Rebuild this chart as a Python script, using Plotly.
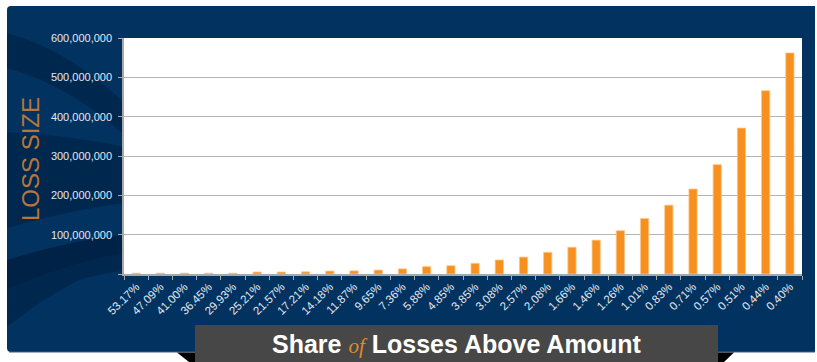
import plotly.graph_objects as go

# ---------------- data ----------------
share_labels = ["53.17%", "47.09%", "41.00%", "36.45%", "29.93%", "25.21%", "21.57%",
                "17.21%", "14.18%", "11.87%", "9.65%", "7.36%", "5.88%", "4.85%",
                "3.85%", "3.08%", "2.57%", "2.08%", "1.66%", "1.46%", "1.26%",
                "1.01%", "0.83%", "0.71%", "0.57%", "0.51%", "0.44%", "0.40%"]
loss_size = [2.0e6, 2.0e6, 2.0e6, 2.0e6, 2.0e6, 5.0e6, 5.0e6,
             5.5e6, 7.5e6, 8.0e6, 10.0e6, 13.0e6, 18.6e6, 21.0e6,
             27.0e6, 35.6e6, 43.0e6, 55.0e6, 68.0e6, 86.0e6, 110.0e6,
             141.0e6, 175.0e6, 216.0e6, 278.0e6, 371.0e6, 466.0e6, 562.0e6]
y_tickvals = [0, 100e6, 200e6, 300e6, 400e6, 500e6, 600e6]
y_ticktext = ["", "100,000,000", "200,000,000", "300,000,000",
              "400,000,000", "500,000,000", "600,000,000"]

# ---------------- layout geometry ----------------
W, H = 817, 362
L, R, T, B = 124, 15, 38, 88
PW, PH = W - L - R, H - T - B

def px(x):
    return (x - L) / PW

def py(y):
    return (H - B - y) / PH

def path(cmds):
    out = []
    for c in cmds:
        if c[0] in ("M", "L"):
            out.append(f"{c[0]} {px(c[1]):.5f},{py(c[2]):.5f}")
        elif c[0] == "Q":
            out.append(f"Q {px(c[1]):.5f},{py(c[2]):.5f} {px(c[3]):.5f},{py(c[4]):.5f}")
        elif c[0] == "Z":
            out.append("Z")
    return " ".join(out)

NAVY = "#02325f"
DARK = "#00284f"
DARKER = "#002247"

shapes = []
# navy panel
shapes.append(dict(type="path", xref="paper", yref="paper", layer="below",
                   path=path([("M", 11, 6), ("L", 815, 6), ("L", 815, 352),
                              ("L", 11, 352), ("Q", 7, 352, 7, 348),
                              ("L", 7, 10), ("Q", 7, 6, 11, 6), ("Z",)]),
                   fillcolor=NAVY, line=dict(width=0)))
# decorative darker swooshes
bands = [
    [("M", 7, 33), ("Q", 70, 50, 130, 108), ("L", 130, 140), ("Q", 70, 85, 7, 68), ("Z",)],
    [("M", 7, 132), ("Q", 70, 135, 130, 148), ("L", 130, 202), ("Q", 70, 210, 7, 228), ("Z",)],
    [("M", 7, 260), ("Q", 70, 240, 130, 234), ("L", 130, 252), ("Q", 70, 262, 7, 290), ("Z",)],
    [("M", 7, 290), ("Q", 70, 262, 130, 252), ("L", 130, 270), ("Q", 90, 275, 77, 281),
     ("Q", 40, 300, 7, 327), ("Z",)],
]
cols = [DARK, DARK, DARKER, DARK]
for b, c in zip(bands, cols):
    shapes.append(dict(type="path", xref="paper", yref="paper", layer="below",
                       path=path(b), fillcolor=c, line=dict(width=0)))
# bottom light edge of panel
shapes.append(dict(type="line", xref="paper", yref="paper", layer="below",
                   x0=px(9), x1=px(815), y0=py(352), y1=py(352),
                   line=dict(color="#3d5f8c", width=1)))
# white plot area
shapes.append(dict(type="rect", xref="paper", yref="paper", layer="below",
                   x0=0, x1=1, y0=0, y1=1, fillcolor="white", line=dict(width=0)))
# black shadow triangles of banner
shapes.append(dict(type="path", xref="paper", yref="paper", layer="above",
                   path=path([("M", 177, 352.5), ("L", 196, 352.5), ("L", 196, 362),
                              ("L", 189, 362), ("Z",)]),
                   fillcolor="black", line=dict(width=0)))
shapes.append(dict(type="path", xref="paper", yref="paper", layer="above",
                   path=path([("M", 717, 352.5), ("L", 734, 352.5), ("L", 724, 362),
                              ("L", 717, 362), ("Z",)]),
                   fillcolor="black", line=dict(width=0)))
# grey banner
shapes.append(dict(type="rect", xref="paper", yref="paper", layer="above",
                   x0=px(195), x1=px(718), y0=py(362), y1=py(325),
                   fillcolor="#474747", line=dict(width=0)))

annotations = [
    dict(xref="paper", yref="paper", x=px(456), y=py(344), xanchor="center", yanchor="middle",
         showarrow=False,
         text="<b>Share</b> <span style=\"font-family:'Liberation Serif',serif;font-size:21px;color:#e08a2c\"><i>of</i></span> <b>Losses Above Amount</b>",
         font=dict(family="Liberation Sans, Arial, sans-serif", size=25, color="white")),
    dict(xref="paper", yref="paper", x=px(30), y=py(159), xanchor="center", yanchor="middle",
         showarrow=False, textangle=-90, text="LOSS SIZE",
         font=dict(family="Liberation Sans, Arial, sans-serif", size=24, color="#b8763a")),
]

fig = go.Figure()
fig.add_trace(go.Bar(
    x=share_labels, y=loss_size,
    marker=dict(color="#f7901e", line=dict(color="#fbc587", width=0.8)),
    hoverinfo="x+y",
))

fig.update_layout(
    width=W, height=H,
    margin=dict(l=L, r=R, t=T, b=B, pad=0),
    paper_bgcolor="white",
    plot_bgcolor="rgba(0,0,0,0)",
    bargap=0.66,
    showlegend=False,
    shapes=shapes,
    annotations=annotations,
    font=dict(family="Liberation Sans, Arial, sans-serif", size=11, color="#e3e9f1"),
    xaxis=dict(
        type="category",
        tickangle=-45,
        ticks="outside", ticklen=4, tickcolor="#a8a8a8",
        tickson="boundaries",
        showline=True, linecolor="#a8a8a8", linewidth=1.5,
        showgrid=False,
        tickfont=dict(size=11.5, color="#e3e9f1"),
        fixedrange=True,
    ),
    yaxis=dict(
        range=[0, 600e6],
        tickvals=y_tickvals, ticktext=y_ticktext,
        ticks="outside", ticklen=4, tickcolor="#a8a8a8",
        showline=True, linecolor="#a8a8a8", linewidth=1.5,
        showgrid=True, gridcolor="#b5b5b5", gridwidth=1.2,
        zeroline=False,
        tickfont=dict(size=11, color="#e3e9f1"),
        ticklabelstandoff=4,
        fixedrange=True,
    ),
)

fig.write_html("out.html")
